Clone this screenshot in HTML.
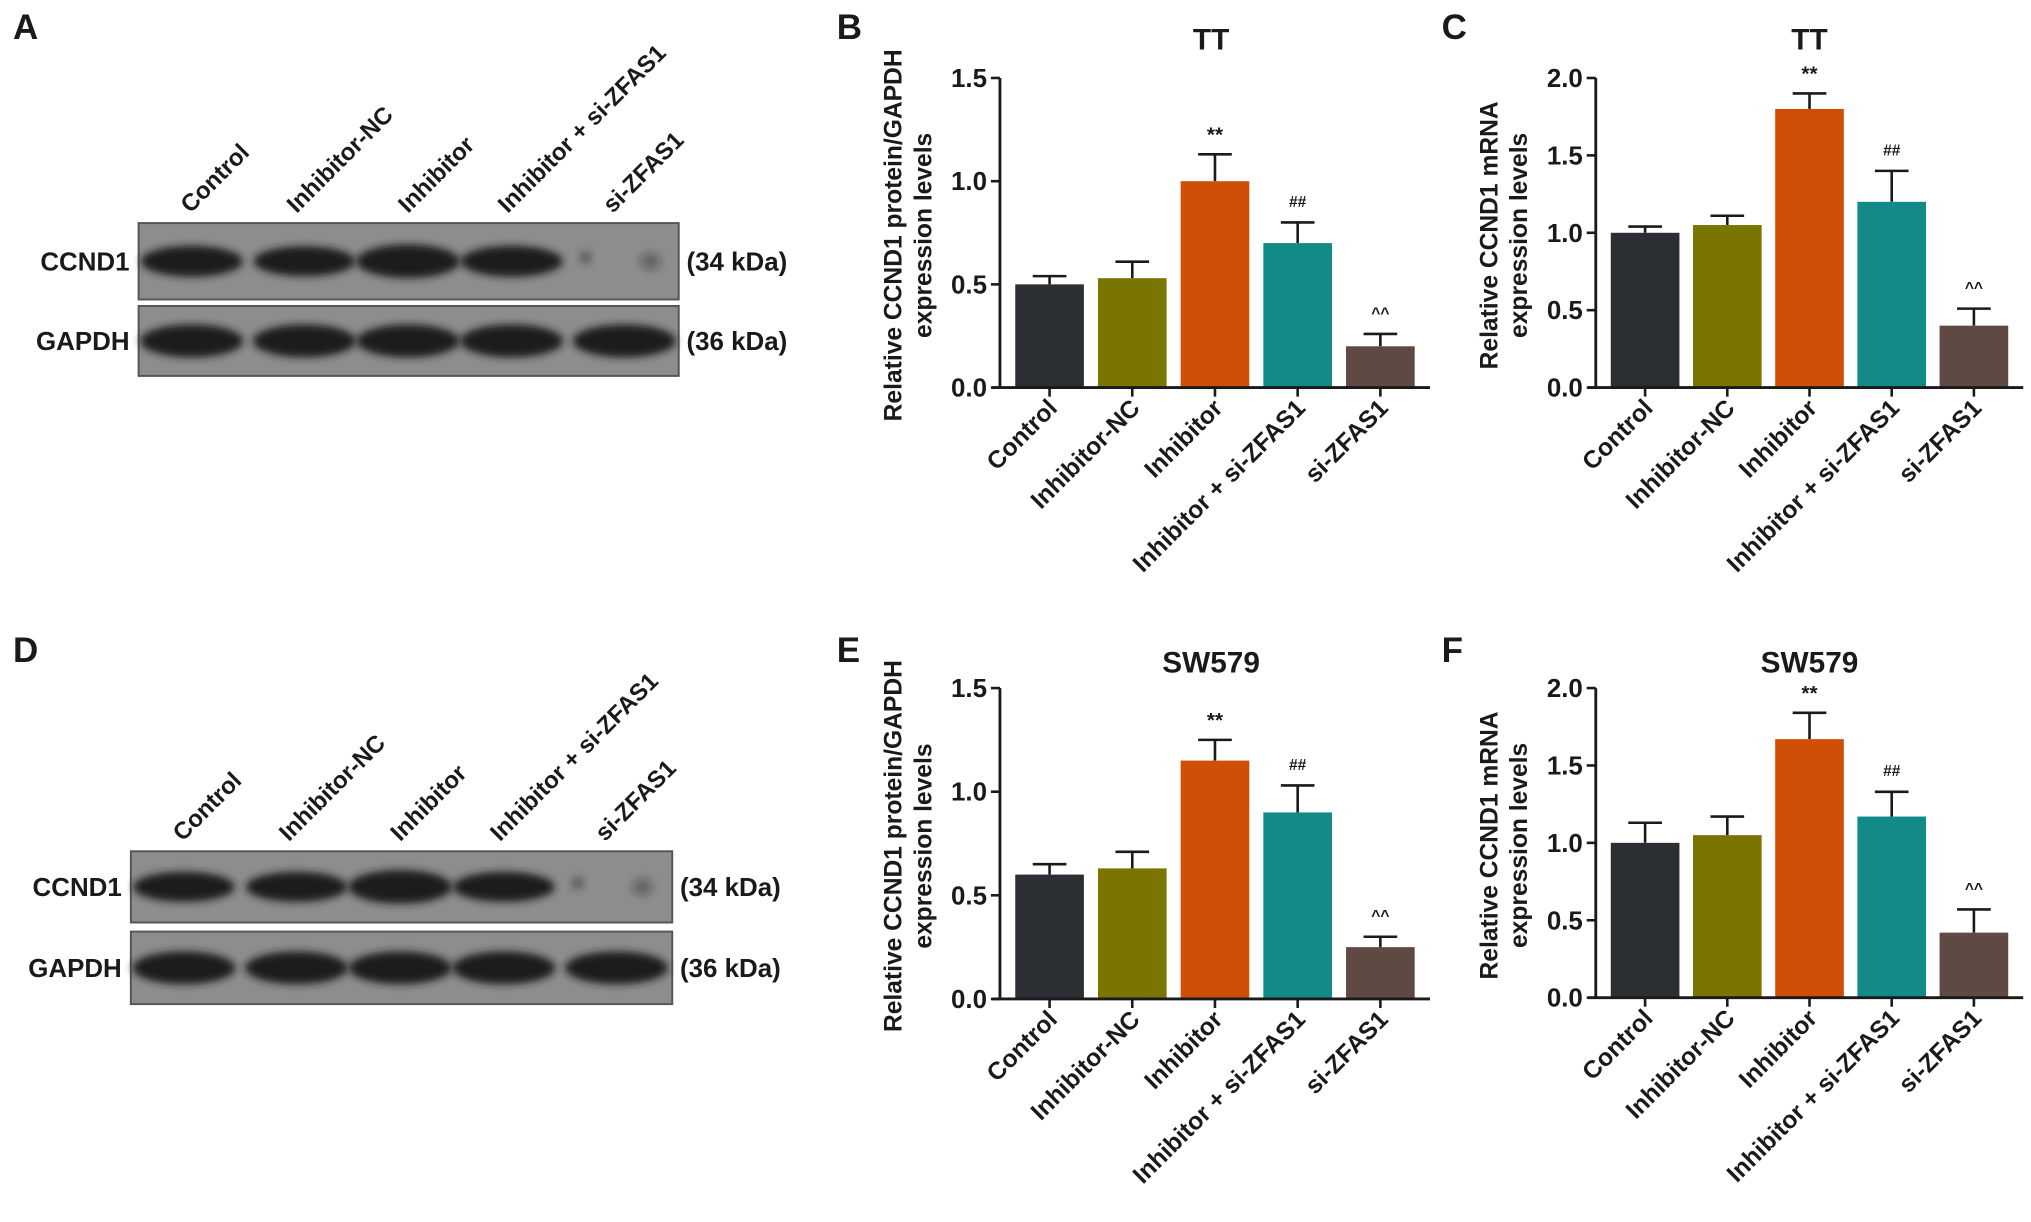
<!DOCTYPE html>
<html><head><meta charset="utf-8">
<style>
html,body{margin:0;padding:0;background:#fff;}
svg{display:block;}
text{font-family:"Liberation Sans",Arial,sans-serif;font-weight:bold;fill:#1a1a1a;}
</style></head>
<body>
<svg id="fig" width="2031" height="1222" viewBox="0 0 1568 943" xmlns="http://www.w3.org/2000/svg">
<defs>
<filter id="blur" x="-30%" y="-80%" width="160%" height="260%"><feGaussianBlur stdDeviation="3"/></filter>
</defs>
<g id="root"></g>
</svg>
<script>
const categories = ["Control","Inhibitor-NC","Inhibitor","Inhibitor + si-ZFAS1","si-ZFAS1"];
const colors = ["#2b2f33","#7a7500","#d04f07","#128a88","#5e4a42"];
const valuesB = [0.50,0.53,1.00,0.70,0.20];
const errorsB = [0.54,0.61,1.13,0.80,0.26];
const valuesC = [1.00,1.05,1.80,1.20,0.40];
const errorsC = [1.04,1.11,1.90,1.40,0.51];
const valuesE = [0.60,0.63,1.15,0.90,0.25];
const errorsE = [0.65,0.71,1.25,1.03,0.30];
const valuesF = [1.00,1.05,1.67,1.17,0.42];
const errorsF = [1.13,1.17,1.84,1.33,0.57];
const ticksProtein = [0,0.5,1.0,1.5];
const ticksMrna = [0,0.5,1.0,1.5,2.0];
const marks = ["","","**","##","^^"];
const ccndIntensityA = [0.85,0.8,1.0,0.85,0.1];
const ccndIntensityD = [0.8,0.8,1.0,0.8,0.1];

const NS="http://www.w3.org/2000/svg";
const root=document.getElementById('root');
function el(tag,attrs,parent){const e=document.createElementNS(NS,tag);for(const k in attrs)e.setAttribute(k,attrs[k]);(parent||root).appendChild(e);return e;}
function txt(s,attrs,parent){const t=el('text',attrs,parent);t.textContent=s;return t;}

function panelLetter(l,x,y){
  const t=txt(l,{x:x,y:y,'font-size':27});
  
  
}

function chart(opt){
  const g=el('g',{});
  
  
  const x0=opt.x0, yTop=opt.yTop, yBot=opt.yBot, ymax=opt.ymax, xEnd=opt.xEnd;
  const y=v=>yBot-(v/ymax)*(yBot-yTop);
  const step=(xEnd-x0)/5.2, bw=53;
  const cx=i=>x0+step*(i+0.6);
  const title=txt(opt.title,{x:opt.titleX,y:opt.titleY,'font-size':23,'text-anchor':'middle'},g);
  
  
  opt.values.forEach((v,i)=>{
    const ey=y(opt.errors[i]);
    const ln=el('line',{x1:cx(i),x2:cx(i),y1:y(v),y2:ey,stroke:'#1a1a1a','stroke-width':2},g);
    
    
    const cap=el('line',{x1:cx(i)-13,x2:cx(i)+13,y1:ey,y2:ey,stroke:'#1a1a1a','stroke-width':2},g);
    
    
    const r=el('rect',{x:cx(i)-bw/2,y:y(v),width:bw,height:yBot-y(v),fill:colors[i]},g);
    
    
    if(marks[i]){
      const m=txt(marks[i],{x:cx(i),y:ey-(marks[i]=='**'?10:12),'font-size':marks[i]=='**'?16:12,'text-anchor':'middle',fill:'#333'},g);
      
      
    }
    const tk=el('line',{x1:cx(i),x2:cx(i),y1:yBot,y2:yBot+7,stroke:'#1a1a1a','stroke-width':2},g);
    
    
    const lb=txt(categories[i],{x:0,y:0,'font-size':19,'text-anchor':'end',transform:`translate(${cx(i)+7},${yBot+17}) rotate(-45)`},g);
    
    
  });
  const ya=el('line',{x1:x0,x2:x0,y1:yTop,y2:yBot+1,stroke:'#1a1a1a','stroke-width':2.2},g);
  
  
  const xa=el('line',{x1:x0-6,x2:xEnd,y1:yBot,y2:yBot,stroke:'#1a1a1a','stroke-width':2.2},g);
  
  
  opt.ticks.forEach(t=>{
    const tl=el('line',{x1:x0-7,x2:x0,y1:y(t),y2:y(t),stroke:'#1a1a1a','stroke-width':2},g);
    
    
    const tt=txt(t.toFixed(1),{x:x0-10,y:y(t)+7,'font-size':20,'text-anchor':'end'},g);
    
    
  });
  const yl=el('text',{transform:`translate(${x0-76},${(yTop+yBot)/2+2}) rotate(-90)`,'font-size':19,'text-anchor':'middle'},g);
  
  
  const t1=el('tspan',{x:0,dy:0},yl);t1.textContent=opt.ylabel1;
  const t2=el('tspan',{x:0,dy:23},yl);t2.textContent='expression levels';
}

function blot(opt){
  const g=el('g',{});
  
  
  const lx=[opt.x+41,opt.x+128,opt.x+208,opt.x+288,opt.x+375];
  [[opt.y1,opt.h1,'CCND1','(34 kDa)',opt.ccnd],[opt.y2,opt.h2,'GAPDH','(36 kDa)',[0.95,0.95,0.95,0.95,0.95]]].forEach((r,ri)=>{
    const box=el('rect',{x:opt.x,y:r[0],width:opt.w,height:r[1],fill:'#8d8d8d',stroke:'#555','stroke-width':1.5},g);
    
    
    const cy=r[0]+r[1]/2;
    r[4].forEach((iv,i)=>{
      const b=el('ellipse',{cx:lx[i]+ (i==4&&ri==0?20:0),cy:cy,rx:i==4&&ri==0?8:36+iv*4,ry:6+iv*7,fill:'#1c1c1c','fill-opacity':Math.min(1,iv+0.25),filter:'url(#blur)'},g);
      
      
    });
    if(ri==0){
      const f=el('ellipse',{cx:lx[4]-30,cy:cy-3,rx:5,ry:5,fill:'#333','fill-opacity':0.5,filter:'url(#blur)'},g);
      
      
    }
    const lab=txt(r[2],{x:opt.x-7,y:cy+7,'font-size':20,'text-anchor':'end'},g);
    
    
    const kd=txt(r[3],{x:opt.x+opt.w+6,y:cy+7,'font-size':20},g);
    
    
  });
  const starts=[opt.x+40,opt.x+122,opt.x+208,opt.x+285,opt.x+366];
  categories.forEach((c,i)=>{
    const t=txt(c,{x:0,y:0,'font-size':18.5,transform:`translate(${starts[i]},${opt.y1-7}) rotate(-45)`},g);
    
    
  });
}

panelLetter('A',10,30);panelLetter('B',646,30);panelLetter('C',1113,30);
panelLetter('D',10,511);panelLetter('E',646,511);panelLetter('F',1113,511);

blot({name:'western-blot-tt',x:107,w:417,y1:172,h1:59,y2:236,h2:54,ccnd:ccndIntensityA});
blot({name:'western-blot-sw579',x:101,w:418,y1:657,h1:55,y2:719,h2:56,ccnd:ccndIntensityD});

chart({name:'chart-b-protein-tt',title:'TT',titleX:935,titleY:38,x0:772,xEnd:1104,yTop:60,yBot:299,ymax:1.5,ticks:ticksProtein,values:valuesB,errors:errorsB,ylabel1:'Relative CCND1 protein/GAPDH'});
chart({name:'chart-c-mrna-tt',title:'TT',titleX:1397,titleY:38,x0:1232,xEnd:1562,yTop:60,yBot:299,ymax:2.0,ticks:ticksMrna,values:valuesC,errors:errorsC,ylabel1:'Relative CCND1 mRNA'});
chart({name:'chart-e-protein-sw579',title:'SW579',titleX:935,titleY:519,x0:772,xEnd:1104,yTop:531,yBot:771,ymax:1.5,ticks:ticksProtein,values:valuesE,errors:errorsE,ylabel1:'Relative CCND1 protein/GAPDH'});
chart({name:'chart-f-mrna-sw579',title:'SW579',titleX:1397,titleY:519,x0:1232,xEnd:1562,yTop:531,yBot:770,ymax:2.0,ticks:ticksMrna,values:valuesF,errors:errorsF,ylabel1:'Relative CCND1 mRNA'});
</script>
</body></html>
